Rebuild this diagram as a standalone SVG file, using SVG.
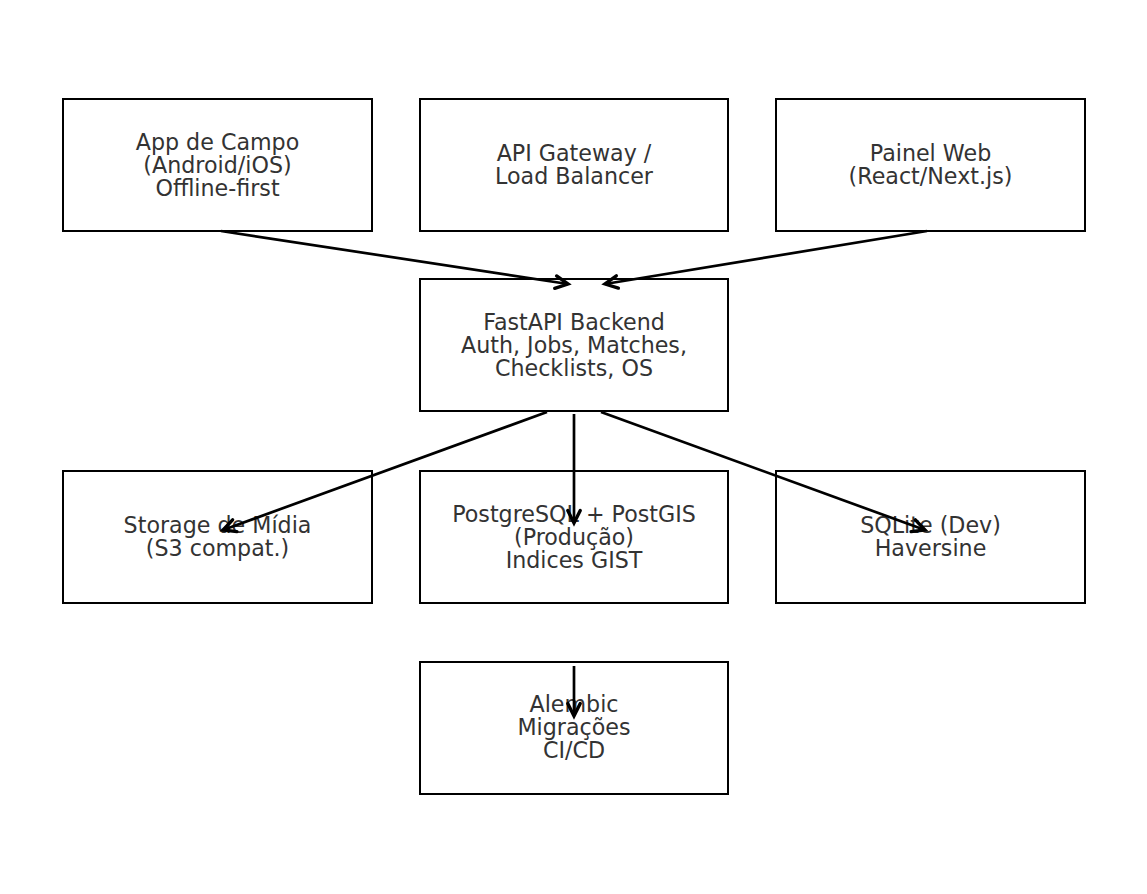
<svg xmlns="http://www.w3.org/2000/svg" width="1147" height="894" viewBox="0 0 1147 894">
<style>
.box{fill:#fff;stroke:#000;stroke-width:2}
.t{font-family:"DejaVu Sans",sans-serif;font-size:22.2px;fill:#333;text-anchor:middle}
.c{stroke:#000;stroke-width:2.7;fill:none;marker-end:url(#ah)}
</style>
<defs>
<marker id="ah" markerUnits="userSpaceOnUse" markerWidth="20" markerHeight="20" refX="0" refY="0" viewBox="-12 -8 14 16" orient="auto" overflow="visible">
<path d="M-10,-5 L0,0 L-10,5" fill="none" stroke="#000" stroke-width="2.7" stroke-linecap="round" stroke-linejoin="miter"/>
</marker>
</defs>
<rect width="1147" height="894" fill="#fff"/>
<g id="app"><rect class="box" x="63" y="99" width="309" height="132"/><text class="t"><tspan x="217.5" y="149.5">App de Campo</tspan><tspan x="217.5" y="172.5">(Android/iOS)</tspan><tspan x="217.5" y="195.5">Offline-first</tspan></text></g>
<g id="gateway"><rect class="box" x="420" y="99" width="308" height="132"/><text class="t"><tspan x="574" y="161">API Gateway /</tspan><tspan x="574" y="184">Load Balancer</tspan></text></g>
<g id="painel"><rect class="box" x="776" y="99" width="309" height="132"/><text class="t"><tspan x="930.5" y="161">Painel Web</tspan><tspan x="930.5" y="184">(React/Next.js)</tspan></text></g>
<g id="backend"><rect class="box" x="420" y="279" width="308" height="132"/><text class="t"><tspan x="574" y="329.5">FastAPI Backend</tspan><tspan x="574" y="352.5">Auth, Jobs, Matches,</tspan><tspan x="574" y="375.5">Checklists, OS</tspan></text></g>
<g id="storage"><rect class="box" x="63" y="471" width="309" height="132"/><text class="t"><tspan x="217.5" y="533">Storage de Mídia</tspan><tspan x="217.5" y="556">(S3 compat.)</tspan></text></g>
<g id="postgres"><rect class="box" x="420" y="471" width="308" height="132"/><text class="t"><tspan x="574" y="521.5">PostgreSQL + PostGIS</tspan><tspan x="574" y="544.5">(Produção)</tspan><tspan x="574" y="567.5">Indices GIST</tspan></text></g>
<g id="sqlite"><rect class="box" x="776" y="471" width="309" height="132"/><text class="t"><tspan x="930.5" y="533">SQLite (Dev)</tspan><tspan x="930.5" y="556">Haversine</tspan></text></g>
<g id="alembic"><rect class="box" x="420" y="662" width="308" height="132"/><text class="t"><tspan x="574" y="712">Alembic</tspan><tspan x="574" y="735">Migrações</tspan><tspan x="574" y="758">CI/CD</tspan></text></g>
<g id="connectors">
<path class="c" d="M221,231 L568,284"/>
<path class="c" d="M927,231 L605,284"/>
<path class="c" d="M547,412 L223,530"/>
<path class="c" d="M574,414 L574,523"/>
<path class="c" d="M601,412 L925,530"/>
<path class="c" d="M574,666 L574,716"/>
</g>
</svg>
